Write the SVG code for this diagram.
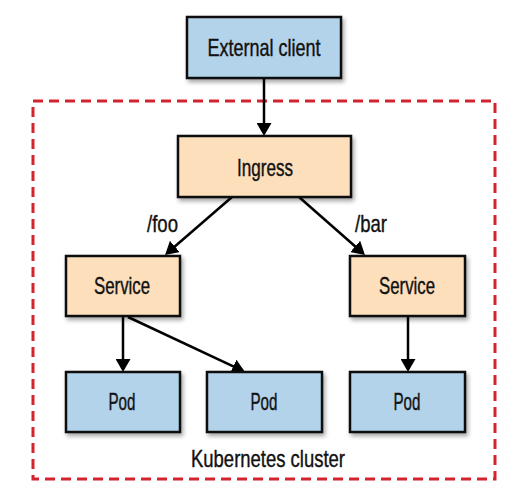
<svg xmlns="http://www.w3.org/2000/svg" width="523" height="500" viewBox="0 0 523 500">
<style>
.box{stroke:#111;stroke-width:2.5}
.blue{fill:#b3d3ea}
.peach{fill:#fddfbc}
.lbl{font-family:"Liberation Sans",Arial,sans-serif;font-size:24px;fill:#111;stroke:#111;stroke-width:0.4;text-anchor:middle}
.edge{stroke:#000;stroke-width:2.5;fill:none;marker-end:url(#ah)}
</style>
<defs>
<marker id="ah" markerUnits="userSpaceOnUse" viewBox="0 0 13 15" markerWidth="13" markerHeight="15" refX="10" refY="7.5" orient="auto">
<path d="M0,0 L13,7.5 L0,15 z" fill="#000"/>
</marker>
<filter id="sh" x="-10%" y="-10%" width="130%" height="140%">
<feDropShadow dx="2" dy="3" stdDeviation="2" flood-color="#000" flood-opacity="0.35"/>
</filter>
</defs>
<g id="cluster">
<rect x="33" y="101" width="462" height="378" fill="none" stroke="#d2232f" stroke-width="3" stroke-dasharray="10,6"/>
<text class="lbl" x="268" y="467" textLength="154" lengthAdjust="spacingAndGlyphs">Kubernetes cluster</text>
</g>
<g id="connectors">
<line class="edge" x1="264" y1="79" x2="264" y2="133"/>
<line class="edge" x1="232" y1="197" x2="167.3" y2="253"/>
<line class="edge" x1="299" y1="197" x2="362.7" y2="253"/>
<line class="edge" x1="123" y1="317" x2="123" y2="369"/>
<line class="edge" x1="128" y1="317" x2="242.3" y2="370.7"/>
<line class="edge" x1="408" y1="317" x2="408" y2="369"/>
<text class="lbl" x="162.5" y="232" textLength="31" lengthAdjust="spacingAndGlyphs">/foo</text>
<text class="lbl" x="371" y="232" textLength="32" lengthAdjust="spacingAndGlyphs">/bar</text>
</g>
<g id="external-client">
<rect class="box blue" x="187" y="17" width="154" height="61" filter="url(#sh)"/>
<text class="lbl" x="264" y="56" textLength="113" lengthAdjust="spacingAndGlyphs">External client</text>
</g>
<g id="ingress">
<rect class="box peach" x="178" y="136" width="173" height="61" filter="url(#sh)"/>
<text class="lbl" x="265" y="176" textLength="56" lengthAdjust="spacingAndGlyphs">Ingress</text>
</g>
<g id="service-foo">
<rect class="box peach" x="66" y="256" width="114" height="60" filter="url(#sh)"/>
<text class="lbl" x="122" y="294" textLength="56" lengthAdjust="spacingAndGlyphs">Service</text>
</g>
<g id="service-bar">
<rect class="box peach" x="350" y="256" width="115" height="60" filter="url(#sh)"/>
<text class="lbl" x="407" y="294" textLength="56" lengthAdjust="spacingAndGlyphs">Service</text>
</g>
<g id="pod-1">
<rect class="box blue" x="66" y="372" width="114" height="60" filter="url(#sh)"/>
<text class="lbl" x="122" y="410" textLength="27" lengthAdjust="spacingAndGlyphs">Pod</text>
</g>
<g id="pod-2">
<rect class="box blue" x="207" y="372" width="115" height="60" filter="url(#sh)"/>
<text class="lbl" x="264" y="410" textLength="27" lengthAdjust="spacingAndGlyphs">Pod</text>
</g>
<g id="pod-3">
<rect class="box blue" x="350" y="372" width="115" height="60" filter="url(#sh)"/>
<text class="lbl" x="407" y="410" textLength="27" lengthAdjust="spacingAndGlyphs">Pod</text>
</g>
</svg>
